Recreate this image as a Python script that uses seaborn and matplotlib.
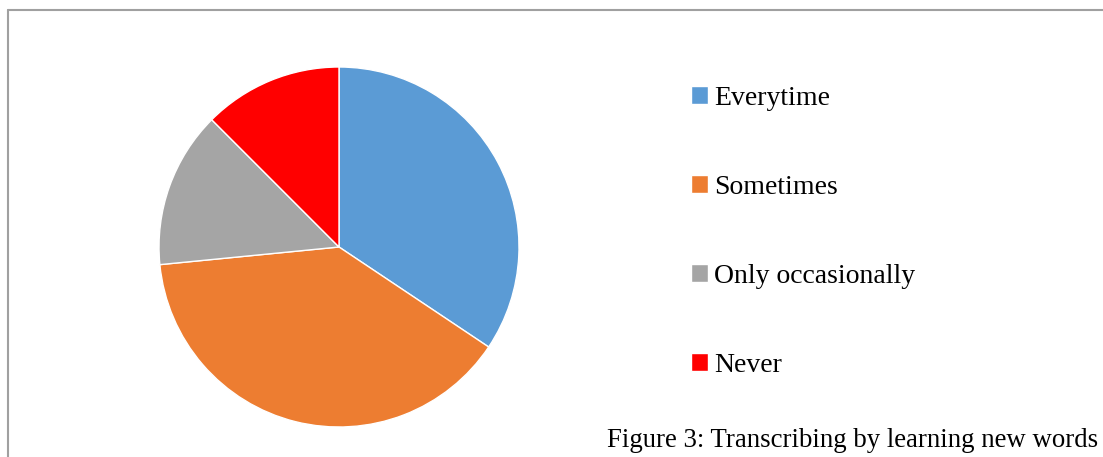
import matplotlib
matplotlib.use("Agg")
import matplotlib.pyplot as plt
import seaborn as sns
from matplotlib.lines import Line2D

categories = ["Everytime", "Sometimes", "Only occasionally", "Never"]
counts = [22, 25, 9, 8]
colors = ["#5B9BD5", "#ED7D31", "#A5A5A5", "#FF0000"]
caption = "Figure 3: Transcribing by learning new words"

sns.set_theme(style="white")
plt.rcParams['font.family'] = ['Liberation Serif', 'DejaVu Serif']

W, H = 1103, 457
fig = plt.figure(figsize=(W / 100, H / 100), dpi=100)
fig.patch.set_facecolor("white")

cx, cy, r = 339, 247, 180
ax = fig.add_axes([(cx - r) / W, (H - cy - r) / H, 2 * r / W, 2 * r / H])
wedges, _ = ax.pie(counts, colors=colors, startangle=90, counterclock=False,
                   radius=1, wedgeprops=dict(edgecolor="white", linewidth=1))
ax.set_xlim(-1, 1)
ax.set_ylim(-1, 1)
ax.set_aspect("equal")
ax.axis("off")

fs = 20
leg = fig.legend(wedges, categories, loc="upper left",
                 bbox_to_anchor=(691 / W, 1 - 86 / H),
                 frameon=False, fontsize=fs,
                 handlelength=0.62, handleheight=0.62, handletextpad=0.22,
                 labelspacing=2.3, borderpad=0, borderaxespad=0)
for t in leg.get_texts():
    t.set_color("#000000")

# chart border (top and left visible)
bc = "#A0A0A0"
fig.add_artist(Line2D([7.5 / W, 1.0], [1 - 9.5 / H, 1 - 9.5 / H],
                      transform=fig.transFigure, color=bc, lw=1.5))
fig.add_artist(Line2D([7.5 / W, 7.5 / W], [0.0, 1 - 9.5 / H],
                      transform=fig.transFigure, color=bc, lw=1.5))

fig.text(607 / W, (H - 447) / H, caption, fontsize=19.27, color="black",
         ha="left", va="baseline")

fig.savefig("out.png", dpi=100, facecolor="white")
